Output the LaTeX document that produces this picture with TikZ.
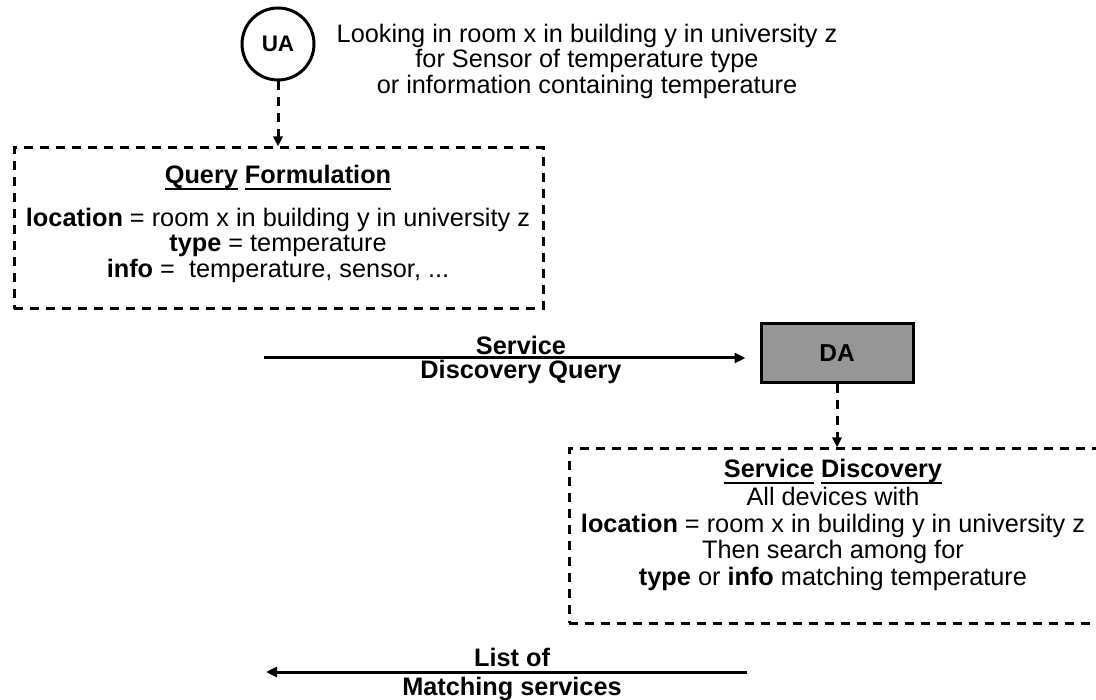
\documentclass[tikz,border=0pt]{standalone}
\usepackage{fontspec}
\setmainfont{Liberation Sans}
\usetikzlibrary{arrows.meta}
\definecolor{dafill}{RGB}{150,150,150}
% underline a word with a rule at a fixed depth below the baseline
\newcommand{\ulword}[1]{\setbox0\hbox{#1}\leavevmode\rlap{\rule[-6.5pt]{\wd0}{2.2pt}}\box0\relax}
\begin{document}
\begin{tikzpicture}[x=1pt,y=-1pt,
  txt/.style={font=\fontsize{25.3}{25.5}\selectfont, align=center, inner sep=0pt},
  btxt/.style={font=\fontsize{25.3}{25.5}\selectfont\bfseries, align=center, inner sep=0pt},
  dashbox/.style={draw, line width=3pt, dash pattern=on 9pt off 7pt, inner sep=0pt},
  dlink/.style={line width=3pt, dash pattern=on 9pt off 7pt, -{Triangle[length=10pt,width=9pt]}},
  slink/.style={line width=3pt, -{Triangle[length=11pt,width=10pt]}}]
\clip (0,0) rectangle (1096,700);

% user agent
\node[draw, circle, line width=3pt, minimum size=72pt, inner sep=0pt,
      font=\fontsize{22.5}{23}\selectfont\bfseries] (ua) at (278,44) {UA};
\node[txt] (desc) at (587,61) {Looking in room x in building y in university z\\
  for Sensor of temperature type\\ or information containing temperature};

% query formulation box
\node[dashbox, minimum width=529pt, minimum height=161pt] (qbox) at (278.5,228.5) {};
\node[txt] (qtitle) at (278,178) {\ulword{\textbf{Query}} \ulword{\textbf{Formulation}}};
\node[txt] (qbody) at (278,245) {\textbf{location} = room x in building y in university z\\
  \textbf{type} = temperature\\ \textbf{info} =\ \ temperature, sensor, ...};
\draw[dlink] (ua.south) -- (ua.south |- qbox.north);

% directory agent
\node[draw, line width=3pt, fill=dafill, minimum width=152pt, minimum height=59pt,
      inner sep=0pt, font=\fontsize{24.5}{25}\selectfont\bfseries] (da) at (837,353.5) {DA};
\coordinate (sq0) at (264,358);
\draw[slink, shorten >=14pt] (sq0) -- (da.west |- sq0);
\node[btxt] (sqa) at (521,345) {Service};
\node[btxt] (sqb) at (521,372) {Discovery Query};

% service discovery box
\node[dashbox, minimum width=531pt, minimum height=174pt] (sbox) at (834.5,536) {};
\node[txt] (stitle) at (833,472) {\ulword{\textbf{Service}} \ulword{\textbf{Discovery}}};
\node[txt, font=\fontsize{25.3}{26.5}\selectfont] (sbody) at (833,539) {All devices with\\
  \textbf{location} = room x in building y in university z\\
  Then search among for\\ \textbf{type} or \textbf{info} matching temperature};
\draw[dlink] (da.south) -- (da.south |- sbox.north);

% reply with the matching services
\coordinate (ls0) at (747,672);
\coordinate (ls1) at (266,672);
\draw[slink] (ls0) -- (ls1);
\node[btxt] (lsa) at (512,657) {List of};
\node[btxt] (lsb) at (512,689) {Matching services};
\end{tikzpicture}
\end{document}
